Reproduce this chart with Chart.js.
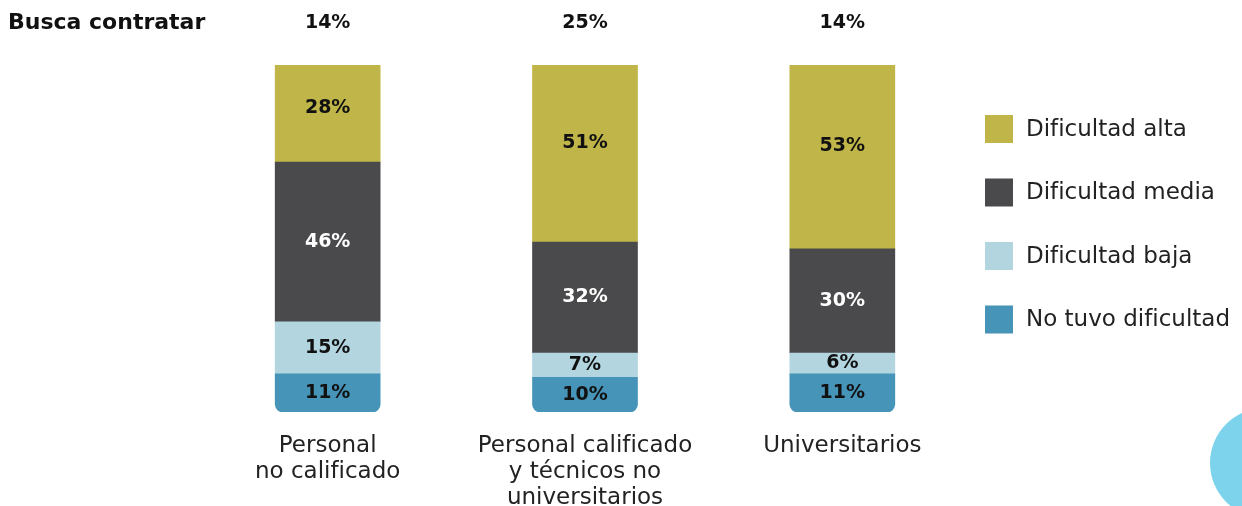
<!DOCTYPE html>
<html lang="es">
<head>
<meta charset="utf-8">
<script src="https://cdn.jsdelivr.net/npm/chart.js@4"></script>
<style>
    body { margin: 0; background: #fff; }
    .contenedor { width: 1242px; height: 506px; position: relative; }
</style>
</head>
<body>
<div class="contenedor"><canvas id="grafico"></canvas></div>
<script>
// --- DATOS ---
const categorias = [["Personal", "no calificado"], ["Personal calificado", "y técnicos no", "universitarios"], ["Universitarios"]];
const buscaContratar = [14, 25, 14];
const noTuvo = [11, 10, 11];
const baja = [15, 7, 6];
const media = [46, 32, 30];
const alta = [28, 51, 53];

const fuente = "'DejaVu Sans', sans-serif";

// --- ETIQUETAS DENTRO DE LAS BARRAS, TOTALES ARRIBA, LEYENDA ---
const extras = {
    id: 'extras',
    beforeDraw(chart) {
        const ctx = chart.ctx;
        ctx.save();
        ctx.fillStyle = '#7dd3ec';
        ctx.beginPath();
        ctx.arc(1265, 463, 55, 0, Math.PI * 2);
        ctx.fill();
        ctx.restore();
    },
    afterDatasetsDraw(chart) {
        const ctx = chart.ctx;
        ctx.save();
        ctx.textAlign = 'center';
        ctx.textBaseline = 'middle';
        ctx.font = `bold 19px ${fuente}`;

        chart.data.datasets.forEach((ds, i) => {
            const meta = chart.getDatasetMeta(i);
            meta.data.forEach((barra, j) => {
                const alto = barra.base - barra.y;
                // la etiqueta de arriba queda un poco más alta que el centro
                const y = (barra.y + barra.base) / 2 - (ds.subir ? alto * 0.06 : 0);
                ctx.fillStyle = ds.colorTexto;
                ctx.fillText(ds.data[j] + '%', barra.x, y);
            });
        });

        // totales "Busca contratar"
        ctx.fillStyle = '#111';
        ctx.font = `bold 19px ${fuente}`;
        buscaContratar.forEach((v, j) => {
            ctx.fillText(v + '%', chart.scales.x.getPixelForValue(j), 23);
        });
        ctx.textAlign = 'left';
        ctx.font = `bold 22px ${fuente}`;
        ctx.fillText('Busca contratar', 8, 23);

        // leyenda (de arriba hacia abajo: alta, media, baja, no tuvo)
        ctx.font = `23px ${fuente}`;
        const orden = [...chart.data.datasets].reverse();
        orden.forEach((ds, k) => {
            const y = 115 + k * 63.5;
            ctx.fillStyle = ds.backgroundColor;
            ctx.fillRect(985, y, 28, 28);
            ctx.fillStyle = '#222';
            ctx.fillText(ds.label, 1026, y + 15);
        });
        ctx.restore();
    }
};

new Chart(document.getElementById('grafico'), {
    type: 'bar',
    data: {
        labels: categorias,
        datasets: [
            { label: 'No tuvo dificultad', data: noTuvo, backgroundColor: '#4694b8', colorTexto: '#111',
              borderRadius: { bottomLeft: 8, bottomRight: 8, topLeft: 0, topRight: 0 }, borderSkipped: false },
            { label: 'Dificultad baja', data: baja, backgroundColor: '#b2d5e0', colorTexto: '#111' },
            { label: 'Dificultad media', data: media, backgroundColor: '#4a4a4c', colorTexto: '#fff' },
            { label: 'Dificultad alta', data: alta, backgroundColor: '#c0b548', colorTexto: '#111', subir: true }
        ]
    },
    options: {
        responsive: true,
        maintainAspectRatio: false,
        animation: false,
        layout: { padding: { top: 65, left: 199, right: 271, bottom: 0 } },
        datasets: { bar: { barThickness: 105 } },
        plugins: { legend: { display: false }, tooltip: { enabled: false } },
        scales: {
            x: {
                stacked: true,
                grid: { display: false },
                border: { display: false },
                ticks: { color: '#222', font: { family: fuente, size: 23, lineHeight: 1.13 }, padding: 13, maxRotation: 0 },
                afterFit: (s) => { s.height = 94; }
            },
            y: { stacked: true, display: false, min: 0, max: 100 }
        }
    },
    plugins: [extras]
});
</script>
</body>
</html>
